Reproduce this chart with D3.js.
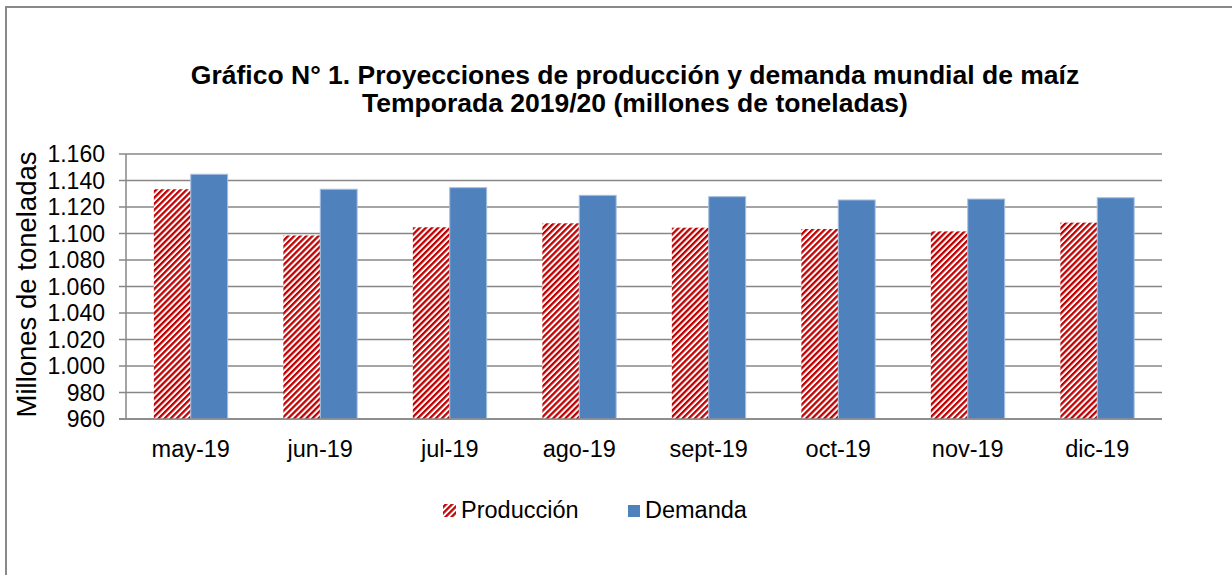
<!DOCTYPE html>
<html>
<head>
<meta charset="utf-8">
<script src="https://cdnjs.cloudflare.com/ajax/libs/d3/7.8.5/d3.min.js"></script>
<style>
  body { margin: 0; background: #fff; }
  svg { display: block; font-family: "Liberation Sans", Arial, sans-serif; }
</style>
</head>
<body>
<svg id="chart" width="1232" height="575"></svg>
<script>
var months = ["may-19", "jun-19", "jul-19", "ago-19", "sept-19", "oct-19", "nov-19", "dic-19"];
var produccion = [1133.4, 1098.5, 1104.7, 1107.7, 1104.4, 1103.4, 1101.6, 1108.2];
var demanda = [1144.7, 1133.4, 1134.6, 1128.8, 1127.8, 1125.3, 1126.0, 1127.0];
var yTicks = [960, 980, 1000, 1020, 1040, 1060, 1080, 1100, 1120, 1140, 1160];
var seriesNames = ["Producción", "Demanda"];

var svg = d3.select("#chart"),
    margin = {top: 154, right: 70, bottom: 156, left: 126},
    width = +svg.attr("width") - margin.left - margin.right,
    height = +svg.attr("height") - margin.top - margin.bottom;

var defs = svg.append("defs");
var pat = defs.append("pattern")
    .attr("id", "stripes")
    .attr("patternUnits", "userSpaceOnUse")
    .attr("width", 4.3)
    .attr("height", 10)
    .attr("patternTransform", "rotate(45)");
pat.append("rect").attr("width", 4.3).attr("height", 10).attr("fill", "#fff");
pat.append("rect").attr("width", 2.3).attr("height", 10).attr("fill", "#c00000");

// outer border
svg.append("rect")
    .attr("x", 6).attr("y", 7)
    .attr("width", 1300).attr("height", 700)
    .attr("fill", "none")
    .attr("stroke", "#898989")
    .attr("stroke-width", 2);

var fmt = function(d) { return d3.format(",.0f")(d).replace(",", "."); };

var x0 = d3.scaleBand().domain(months).range([0, width]).paddingInner(0.43).paddingOuter(0.215);
var x1 = d3.scaleBand().domain(seriesNames).range([0, x0.bandwidth()]);
var y = d3.scaleLinear().domain([960, 1160]).range([height, 0]);

var g = svg.append("g").attr("transform", "translate(" + margin.left + "," + margin.top + ")");

// gridlines
g.append("g").selectAll("line")
  .data(yTicks)
  .join("line")
    .attr("x1", -7).attr("x2", width)
    .attr("y1", function(d) { return y(d); })
    .attr("y2", function(d) { return y(d); })
    .attr("stroke", "#878787")
    .attr("stroke-width", 1.5);

// y axis line
g.append("line")
    .attr("x1", 0).attr("x2", 0)
    .attr("y1", 0).attr("y2", height)
    .attr("stroke", "#878787")
    .attr("stroke-width", 1.5);

// y tick labels
g.append("g").selectAll("text")
  .data(yTicks)
  .join("text")
    .attr("x", -21)
    .attr("y", function(d) { return y(d); })
    .attr("dy", "0.36em")
    .attr("text-anchor", "end")
    .attr("font-size", 23)
    .attr("fill", "#000")
    .text(fmt);

// bars
var groups = g.append("g").selectAll("g")
  .data(months)
  .join("g")
    .attr("transform", function(d) { return "translate(" + x0(d) + ",0)"; });

groups.append("rect")
    .attr("x", x1("Producción"))
    .attr("width", x1.bandwidth())
    .attr("y", function(d, i) { return y(produccion[i]); })
    .attr("height", function(d, i) { return height - y(produccion[i]); })
    .attr("fill", "url(#stripes)");

groups.append("rect")
    .attr("x", x1("Demanda"))
    .attr("width", x1.bandwidth())
    .attr("y", function(d, i) { return y(demanda[i]); })
    .attr("height", function(d, i) { return height - y(demanda[i]); })
    .attr("fill", "#4f81bd")
    .attr("stroke", "#a7bfdf")
    .attr("stroke-width", 1);

// baseline
g.append("line")
    .attr("x1", -7).attr("x2", width)
    .attr("y1", height).attr("y2", height)
    .attr("stroke", "#878787")
    .attr("stroke-width", 1.5);

// x labels
g.append("g").selectAll("text")
  .data(months)
  .join("text")
    .attr("x", function(d) { return x0(d) + x0.bandwidth() / 2; })
    .attr("y", height + 38)
    .attr("text-anchor", "middle")
    .attr("font-size", 23.5)
    .attr("fill", "#000")
    .text(function(d) { return d; });

// y axis title
svg.append("text")
    .attr("transform", "translate(36," + (margin.top + height / 2 - 2) + ") rotate(-90)")
    .attr("text-anchor", "middle")
    .attr("font-size", 27.5)
    .attr("fill", "#000")
    .text("Millones de toneladas");

// title
var title = svg.append("text")
    .attr("text-anchor", "middle")
    .attr("font-size", 26.5)
    .attr("font-weight", "bold")
    .attr("fill", "#000");
title.append("tspan").attr("x", 635).attr("y", 84)
    .text("Gráfico N° 1. Proyecciones de producción y demanda mundial de maíz");
title.append("tspan").attr("x", 635).attr("y", 112)
    .text("Temporada 2019/20 (millones de toneladas)");

// legend
var legend = svg.append("g");
legend.append("rect")
    .attr("x", 443).attr("y", 504).attr("width", 13).attr("height", 13)
    .attr("fill", "url(#stripes)");
legend.append("text")
    .attr("x", 461).attr("y", 518)
    .attr("font-size", 23.5)
    .text(seriesNames[0]);
legend.append("rect")
    .attr("x", 628).attr("y", 505).attr("width", 12).attr("height", 12)
    .attr("fill", "#4f81bd");
legend.append("text")
    .attr("x", 645).attr("y", 518)
    .attr("font-size", 23.5)
    .text(seriesNames[1]);
</script>
</body>
</html>
